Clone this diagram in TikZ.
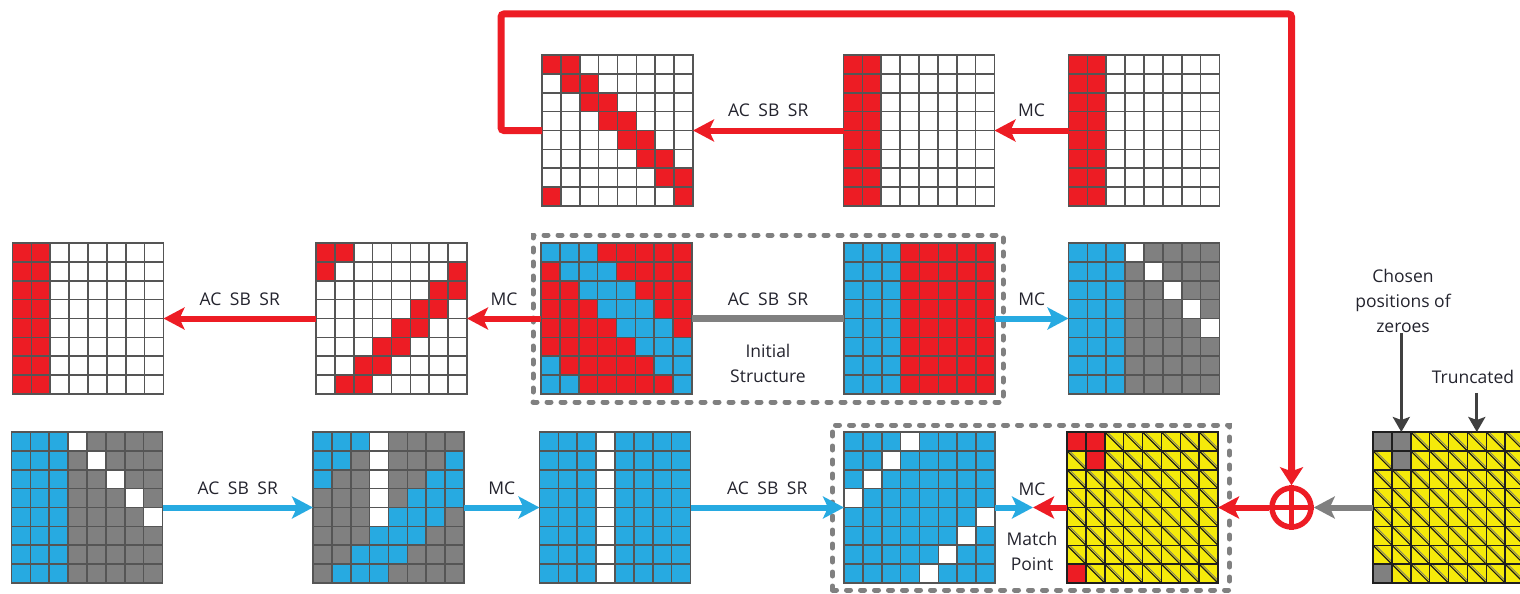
\documentclass[tikz,border=0pt]{standalone}
\usepackage{fontspec}
\usetikzlibrary{arrows.meta,fit}
\newfontfamily\labfont{Open Sans}

\definecolor{cred}{RGB}{237,28,36}
\definecolor{cblue}{RGB}{39,170,225}
\definecolor{cgray}{RGB}{128,128,128}
\definecolor{cyel}{RGB}{245,234,10}
\definecolor{cline}{RGB}{85,85,85}
\definecolor{cdark}{RGB}{64,64,64}
\definecolor{ctext}{RGB}{35,35,45}

% one state cell is 18.875 units, a state is 8 x 8 cells
\def\cellsz{18.875}
\newcount\cellcol
\newcommand\gridrow[3]{\cellcol=0 \def\rowx{#1}\def\rowy{#2}\expandafter\rowscan#3\relax}
\def\rowscan#1{\ifx\relax#1\else
  \path[cell#1] ({\rowx+\the\cellcol*\cellsz},{\rowy}) rectangle +(\cellsz,\cellsz);
  \ifx y#1
    \draw[hatchb] ({\rowx+\the\cellcol*\cellsz+2.6},{\rowy}) -- +({\cellsz-2.6},{\cellsz-2.6});
    \draw[hatch] ({\rowx+\the\cellcol*\cellsz},{\rowy}) -- +(\cellsz,\cellsz);
  \fi
  \advance\cellcol by 1\relax
  \expandafter\rowscan\fi}
% #1 name, #2 left, #3 top, #4 rows of cell codes, #5 grid line style
\newcommand\gridat[5]{%
  \node[gridnode] (#1) at ({#2+75.5},{#3+75.5}) {};
  \foreach \rw [count=\i from 0] in {#4} {\gridrow{#2}{#3+\i*\cellsz}{\rw}}
  \foreach \k in {0,...,8} {
    \path[#5] ({#2+\k*\cellsz},{#3}) -- +(0,151);
    \path[#5] ({#2},{#3+\k*\cellsz}) -- +(151,0);
  }}

\tikzset{
  cellr/.style={fill=cred},
  cellb/.style={fill=cblue},
  cellw/.style={fill=white},
  cellg/.style={fill=cgray},
  celly/.style={fill=cyel},
  hatch/.style={draw=black!90, line width=1.1pt},
  hatchb/.style={draw=black!55, line width=0.7pt},
  gridln/.style={draw=cline, line width=1.6pt, line cap=rect},
  gridlnk/.style={draw=black!88, line width=1.5pt, line cap=rect},
  gridnode/.style={minimum size=151pt, inner sep=0pt, outer sep=0pt},
  lab/.style={font=\labfont\fontsize{17.5}{25}\selectfont, text=ctext, inner sep=0pt},
  lab1/.style={lab, text height=12.5pt, text depth=0pt},
  arr/.style={line width=6pt, -{Stealth[length=21pt,width=22pt,inset=5pt]}},
  redarr/.style={arr, draw=cred},
  bluearr/.style={arr, draw=cblue},
  grayarr/.style={arr, draw=cgray},
  darkarr/.style={draw=cdark, line width=3pt, -{Stealth[length=15pt,width=17pt,inset=3pt]}},
  dashbox/.style={draw=cgray, line width=5pt, dash pattern=on 4pt off 10pt, line cap=round},
  xornode/.style={circle, draw=cred, line width=5.5pt, minimum size=39pt, inner sep=0pt},
}
\newcommand\sep{\hspace{8.5pt}}

\begin{document}
\begin{tikzpicture}[x=1pt, y=-1pt]
\useasboundingbox (0,0) rectangle (1520,594);
\clip (0,0) rectangle (1520,594);

% ---- top row
\gridat{g1}{542}{55}{rrwwwwww,wrrwwwww,wwrrwwww,wwwrrwww,wwwwrrww,wwwwwrrw,wwwwwwrr,rwwwwwwr}{gridln}
\gridat{g2}{843.5}{55}{rrwwwwww,rrwwwwww,rrwwwwww,rrwwwwww,rrwwwwww,rrwwwwww,rrwwwwww,rrwwwwww}{gridln}
\gridat{g3}{1068.5}{55}{rrwwwwww,rrwwwwww,rrwwwwww,rrwwwwww,rrwwwwww,rrwwwwww,rrwwwwww,rrwwwwww}{gridln}

% ---- middle row
\gridat{m1}{12.5}{243}{rrwwwwww,rrwwwwww,rrwwwwww,rrwwwwww,rrwwwwww,rrwwwwww,rrwwwwww,rrwwwwww}{gridln}
\gridat{m2}{316}{243}{rrwwwwww,rwwwwwwr,wwwwwwrr,wwwwwrrw,wwwwrrww,wwwrrwww,wwrrwwww,wrrwwwww}{gridln}
\gridat{m3}{541}{243}{bbbrrrrr,rbbbrrrr,rrbbbrrr,rrrbbbrr,rrrrbbbr,rrrrrbbb,brrrrrbb,bbrrrrrb}{gridln}
\gridat{m4}{844}{243}{bbbrrrrr,bbbrrrrr,bbbrrrrr,bbbrrrrr,bbbrrrrr,bbbrrrrr,bbbrrrrr,bbbrrrrr}{gridln}
\gridat{m5}{1068.5}{243}{bbbwgggg,bbbgwggg,bbbggwgg,bbbgggwg,bbbggggw,bbbggggg,bbbggggg,bbbggggg}{gridln}

% ---- bottom row
\gridat{b1}{11.5}{432}{bbbwgggg,bbbgwggg,bbbggwgg,bbbgggwg,bbbggggw,bbbggggg,bbbggggg,bbbggggg}{gridln}
\gridat{b2}{313}{432}{bbbwgggg,bbgwgggb,bggwggbb,gggwgbbb,gggwbbbg,gggbbbgg,ggbbbggg,gbbbgggg}{gridln}
\gridat{b3}{539.5}{432}{bbbwbbbb,bbbwbbbb,bbbwbbbb,bbbwbbbb,bbbwbbbb,bbbwbbbb,bbbwbbbb,bbbwbbbb}{gridln}
\gridat{b4}{844}{432}{bbbwbbbb,bbwbbbbb,bwbbbbbb,wbbbbbbb,bbbbbbbw,bbbbbbwb,bbbbbwbb,bbbbwbbb}{gridln}
\gridat{b5}{1067}{432}{rryyyyyy,yryyyyyy,yyyyyyyy,yyyyyyyy,yyyyyyyy,yyyyyyyy,yyyyyyyy,ryyyyyyy}{gridlnk}
\gridat{b6}{1373}{432}{ggyyyyyy,ygyyyyyy,yyyyyyyy,yyyyyyyy,yyyyyyyy,yyyyyyyy,yyyyyyyy,gyyyyyyy}{gridlnk}

% ---- dashed frames
\node[dashbox, fit=(m3)(m4), inner sep=8pt] (box1) {};
\node[dashbox, fit=(b4)(b5), inner xsep=11.5pt, inner ysep=7pt] (box2) {};

% ---- top row transitions
\draw[redarr] (g3.west) -- node[lab1, yshift=20pt] (t1) {MC} (g2.east);
\draw[redarr] (g2.west) -- node[lab1, yshift=20pt] (t2) {AC\sep SB\sep SR} (g1.east);

% ---- middle row transitions
\draw[redarr] (m3.west) -- node[lab1, yshift=19pt] (t3) {MC} (m2.east);
\draw[redarr] (m2.west) -- node[lab1, yshift=19pt] (t4) {AC\sep SB\sep SR} (m1.east);
\draw[cgray, line width=6.5pt] (m3.east) -- node[lab1, yshift=19pt] (t5) {AC\sep SB\sep SR}
  node[lab, yshift=-44.5pt, align=center] (t6) {Initial\\Structure} (m4.west);
\draw[bluearr] (m4.east) -- node[lab1, yshift=19pt] (t7) {MC} (m5.west);

% ---- bottom row transitions
\draw[bluearr] (b1.east) -- node[lab1, yshift=19pt] (t8) {AC\sep SB\sep SR} (b2.west);
\draw[bluearr] (b2.east) -- node[lab1, yshift=19pt] (t9) {MC} (b3.west);
\draw[bluearr] (b3.east) -- node[lab1, yshift=19pt] (t10) {AC\sep SB\sep SR} (b4.west);
\coordinate (mp) at (1033,507.5);
\draw[bluearr] (b4.east) -- (mp);
\draw[redarr] (b5.west) -- (mp);
\node[lab1] (t11) at (1032,489) {MC};
\node[lab, align=center] (t12) at (1032,551) {Match\\Point};

% ---- feed-forward XOR
\node[xornode] (xor) at (1291.5,507.5) {};
\draw[cred, line width=4.5pt] (xor.north) -- (xor.south) (xor.west) -- (xor.east);
\coordinate (loopa) at (501,14);
\draw[cred, line width=7pt, rounded corners=3pt, -{Stealth[length=18pt,width=23pt,inset=4pt]}]
  (g1.west) -| (loopa) -| (xor.north);
\draw[grayarr] (b6.west) -- (xor.east);
\draw[redarr] (xor.west) -- (b5.east);

% ---- annotations
\node[lab, align=center] (zc) at (1403,301) {Chosen\\positions of\\zeroes};
\coordinate (z1) at (1401.3,432);
\draw[darkarr] (z1 |- zc.south) -- (z1);
\node[lab] (tr) at (1473,377) {Truncated};
\coordinate (z2) at (1476.8,432);
\draw[darkarr] ([yshift=-9pt]z2 |- tr.south) -- (z2);
\end{tikzpicture}
\end{document}
